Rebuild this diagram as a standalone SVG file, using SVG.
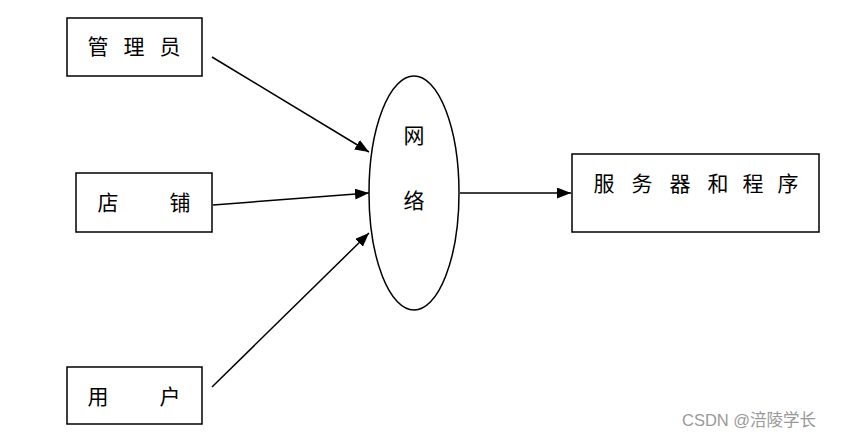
<svg xmlns="http://www.w3.org/2000/svg" width="841" height="438" viewBox="0 0 841 438">
<defs>
<style>
.box{fill:#fff;stroke:#000;stroke-width:1.5}
.t{font-family:"Noto Sans CJK SC","Liberation Sans",sans-serif;font-size:21px;fill:#000;text-anchor:middle;dominant-baseline:central}
.c{stroke:#000;stroke-width:1.5;fill:none;marker-end:url(#ah)}
.wm{font-family:"Liberation Sans","Noto Sans CJK SC",sans-serif;font-size:16.5px;fill:#999}
</style>
<marker id="ah" viewBox="0 0 14 11" refX="14" refY="5.5" markerWidth="14" markerHeight="11" markerUnits="userSpaceOnUse" orient="auto">
<path d="M0,0 L14,5.5 L0,11 z" fill="#000"/>
</marker>
</defs>
<rect width="841" height="438" fill="#fff"/>
<g id="admin">
<rect class="box" x="67" y="18" width="135" height="58"/>
<text class="t" x="98" y="45">管</text><text class="t" x="134" y="45">理</text><text class="t" x="170" y="45">员</text>
</g>
<g id="shop">
<rect class="box" x="76" y="173" width="136" height="59"/>
<text class="t" x="108" y="201">店</text><text class="t" x="180" y="201">铺</text>
</g>
<g id="user">
<rect class="box" x="67" y="367" width="135" height="57"/>
<text class="t" x="98" y="395">用</text><text class="t" x="170" y="395">户</text>
</g>
<g id="network">
<ellipse class="box" cx="414" cy="193" rx="45" ry="117"/>
<text class="t" x="414" y="134">网</text><text class="t" x="414" y="199">络</text>
</g>
<g id="server">
<rect class="box" x="572" y="154" width="247" height="78"/>
<text class="t" x="604" y="182">服</text><text class="t" x="642" y="182">务</text><text class="t" x="680" y="182">器</text><text class="t" x="718" y="182">和</text><text class="t" x="753" y="182">程</text><text class="t" x="788" y="182">序</text>
</g>
<g id="connectors">
<line class="c" x1="212" y1="57" x2="369" y2="152"/>
<line class="c" x1="213" y1="205" x2="369" y2="193"/>
<line class="c" x1="212" y1="387" x2="369" y2="233"/>
<line class="c" x1="460" y1="193" x2="571" y2="193"/>
</g>
<text class="wm" x="682" y="426">CSDN @涪陵学长</text>
</svg>
